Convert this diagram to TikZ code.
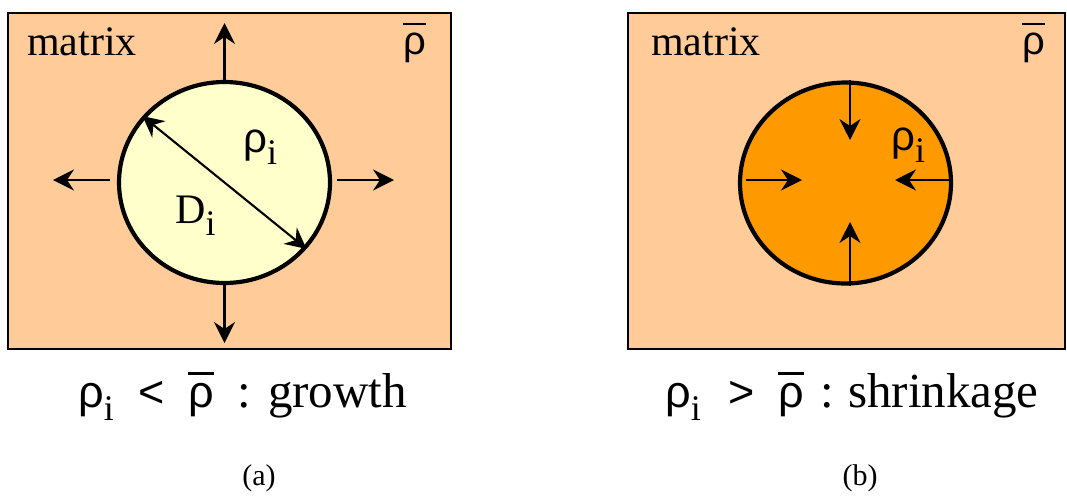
\documentclass[tikz,border=0pt]{standalone}
\usepackage{fontspec}
\setmainfont{Liberation Serif}
\newfontfamily\grk{Liberation Sans}
\usetikzlibrary{arrows.meta,shapes.geometric}
\definecolor{mtx}{HTML}{FFCC99}
\definecolor{lite}{HTML}{FFFFCC}
\definecolor{dark}{HTML}{FF9900}
\newcommand{\low}[1]{\raisebox{-0.3em}{\fontsize{36}{36}\selectfont #1}}
\newcommand{\rhob}{{\grk\setbox0\hbox{ρ}\rlap{\rule[0.72em]{\wd0}{0.055em}}\box0}}
\newcommand{\rhoi}{{\grk ρ}\low{i}}
\newcommand{\symsz}[1]{{\fontsize{45}{45}\selectfont #1}}
\tikzset{
  box/.style={draw, line width=2pt, fill=mtx, minimum width=#1, minimum height=336pt, inner sep=0pt},
  grain/.style={draw, ellipse, line width=4.2pt, fill=#1, minimum width=211pt, minimum height=201pt, inner sep=0pt},
  arr/.style={-{Stealth[length=21pt,width=21pt,inset=7pt]}, line width=2.1pt},
  dbl/.style={{Stealth[length=21pt,width=21pt,inset=7pt]}-{Stealth[length=21pt,width=21pt,inset=7pt]}, line width=2.1pt},
  txt/.style={inner sep=0pt, anchor=base west, font=\fontsize{#1}{#1}\selectfont},
  txt/.default=42,
}
\begin{document}
\begin{tikzpicture}[x=1pt, y=-1pt]
  \useasboundingbox (0,0) rectangle (1067,496);
  % (a) growth
  \node[box=443pt] (bl) at (229.5,181) {};
  \node[grain=lite] (gl) at (224.5,182.5) {};
  \node[txt] (ml) at (27,55) {matrix};
  \node[txt=40] (rl) at (403,54) {\rhob};
  \node[txt] (pl) at (243,152) {\rhoi};
  \node[txt] (dl) at (175,223) {D\low{i}};
  \coordinate (gn) at (224.5,23);
  \coordinate (gs) at (224.5,343);
  \coordinate (gw) at (53,180);
  \coordinate (ge) at (394,180);
  \draw[arr] (gl.north) -- (gn);
  \draw[arr] (gl.south) -- (gs);
  \draw[arr, shorten <=7pt] (gw -| gl.west) -- (gw);
  \draw[arr, shorten <=5pt] (ge -| gl.east) -- (ge);
  \draw[dbl] (gl.141) -- (gl.-39);

  % (b) shrinkage
  \node[box=437pt] (br) at (846.5,181) {};
  \node[grain=dark] (gr) at (845.5,183) {};
  \node[txt] (mr) at (651,55) {matrix};
  \node[txt=40] (rr) at (1022,54) {\rhob};
  \node[txt] (pr) at (891,150) {\rhoi};
  \coordinate (sn) at (850,140);
  \coordinate (ss) at (850,222);
  \coordinate (sw) at (802,180);
  \coordinate (se) at (895,180);
  \draw[arr] ([xshift=4.5pt]gr.north) -- (sn);
  \draw[arr] ([xshift=4.5pt]gr.south) -- (ss);
  \draw[arr, shorten <=8pt] (sw -| gr.west) -- (sw);
  \draw[arr] (se -| gr.east) -- (se);

  % captions
  \node[txt=49] (cl) at (78,407) {\makebox[60pt][l]{\symsz{\rhoi}}\makebox[50pt][l]{\symsz{\grk <}}\makebox[49pt][l]{\symsz{\rhob}}\makebox[31pt][l]{:}growth};
  \node[txt=49] (cr) at (665,407) {\makebox[63pt][l]{\symsz{\rhoi}}\makebox[50pt][l]{\symsz{\grk >}}\makebox[42pt][l]{\symsz{\rhob}}\makebox[28pt][l]{:}shrinkage};
  \node[txt=30, anchor=base] (la) at (259,485) {(a)};
  \node[txt=30, anchor=base] (lb) at (860,485) {(b)};
\end{tikzpicture}
\end{document}
